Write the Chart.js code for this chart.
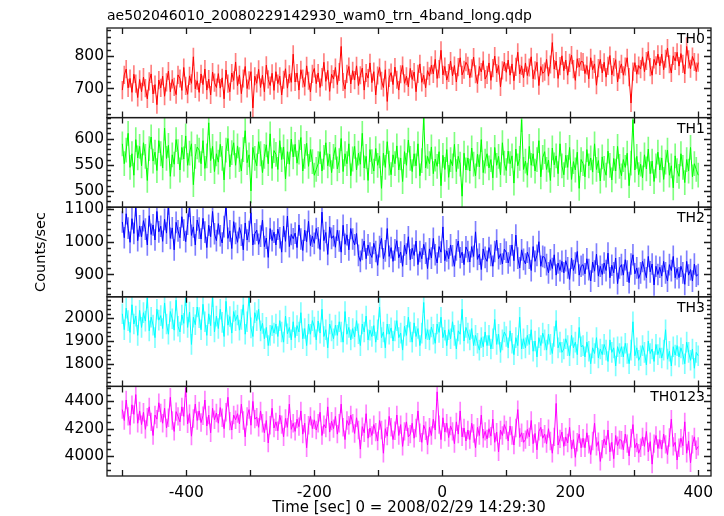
<!DOCTYPE html>
<html><head><meta charset="utf-8">
<script src="https://cdn.jsdelivr.net/npm/chart.js@4.4.1/dist/chart.umd.min.js"></script>
<style>html,body{margin:0;padding:0;background:#fff;}canvas{display:block;}</style>
</head><body>
<canvas id="c" width="724" height="516"></canvas>
<script>
const TITLE = 'ae502046010_20080229142930_wam0_trn_4band_long.qdp';
const X_TITLE = 'Time [sec] 0 = 2008/02/29 14:29:30';
const Y_TITLE = 'Counts/sec';
const bandNames = ['TH0', 'TH1', 'TH2', 'TH3', 'TH0123'];
const T0 = -500, DT = 3;            // bin start time and bin width [sec]
const xTickLabels = [-400, -200, 0, 200, 400];
const xMinorTicks = [-500, -400, -300, -200, -100, 0, 100, 200, 300, 400];
const xRange = [-524, 420];

const TH0 = [
695,742,760,702,731,688,744,715,672,728,
690,735,701,668,722,745,683,712,650,726,
702,738,676,719,754,690,728,705,681,742,
731,694,765,708,682,739,716,798,699,724,
688,745,712,760,695,729,680,751,718,703,
746,701,733,668,757,715,690,748,725,782,
709,742,684,731,768,700,725,752,640,738,
716,759,703,741,690,772,728,709,747,694,
752,715,738,680,727,761,701,744,719,806,
720,748,695,758,731,706,770,724,689,745,
762,715,748,703,735,781,722,756,691,744,
729,765,712,751,830,720,698,745,768,714,
755,726,770,709,741,763,695,748,732,779,
718,752,680,740,765,724,703,758,660,733,
749,712,766,727,695,744,771,716,738,705,
762,728,751,690,745,776,719,741,702,755,
738,772,745,790,731,760,818,742,768,726,
748,785,739,771,720,766,795,742,758,781,
770,733,762,797,744,715,768,751,786,729,
742,779,725,763,800,748,771,705,756,782,
750,788,741,776,724,767,812,745,770,733,
779,740,765,798,730,756,781,709,768,747,
752,790,738,774,842,760,785,731,769,801,
755,788,741,779,803,760,725,792,766,784,
782,746,771,730,795,758,776,710,763,790,
748,781,735,770,802,742,766,789,720,758,
776,741,768,795,735,655,752,780,744,771,
760,798,752,785,815,766,741,790,772,806,
770,806,758,792,825,775,748,801,785,812,
769,808,776,745,830,790,761,799,782,752,
780];
const TH1 = [
590,552,578,610,545,571,530,598,563,585,
548,592,566,520,581,603,557,574,539,596,
571,544,620,562,587,528,569,551,598,575,
540,583,561,605,549,572,590,512,566,584,
578,552,596,543,567,630,558,585,537,571,
555,589,562,521,578,600,546,573,592,549,
586,560,538,579,615,554,569,500,583,562,
548,594,571,535,566,588,552,609,543,577,
570,541,596,560,584,523,575,551,599,565,
589,553,574,602,538,566,591,547,579,556,
530,541,552,575,538,564,592,548,570,535,
566,583,542,558,600,537,571,552,590,529,
561,585,540,572,551,610,544,566,520,579,
556,538,581,549,567,505,572,545,594,553,
531,569,552,586,540,563,518,575,549,597,
562,537,571,548,590,529,558,640,544,566,
552,584,533,561,547,575,510,568,541,579,
526,560,548,589,537,566,551,490,572,540,
563,538,582,551,529,570,546,598,535,557,
571,544,560,525,583,549,566,531,592,553,
539,576,552,567,515,580,548,562,636,541,
557,530,585,549,571,538,560,596,527,564,
575,541,559,520,582,550,567,533,590,548,
531,568,545,583,522,556,540,574,505,560,
552,527,579,548,563,536,590,541,558,519,
565,543,530,576,549,521,562,538,585,547,
529,560,545,572,510,553,636,540,566,531,
551,525,569,542,580,533,557,518,548,574,
540,563,522,555,578,530,548,506,567,539,
528,571,545,516,560,538,583,527,552,541,
530];
const TH2 = [
1060,1012,1085,1041,998,1070,1025,1110,1003,1048,
1015,1064,1038,990,1079,1022,1051,1005,1092,1030,
1047,1001,1068,1026,1115,1010,1042,975,1059,1033,
1012,1076,1035,1000,1053,1108,1019,1045,990,1066,
1041,1008,1071,1029,982,1050,1015,1092,1024,1003,
1055,1018,996,1046,1112,1010,1033,979,1061,1025,
998,1043,1020,975,1057,1005,1031,1088,990,1024,
1035,992,1017,1066,985,1011,952,1040,1003,1029,
990,1038,1012,968,1047,1001,1078,985,1022,1009,
1026,982,1051,1008,973,1035,1000,1062,988,1017,
995,1040,1012,976,1090,1003,1028,961,1045,1010,
1018,983,1035,1002,968,1050,992,1021,975,1040,
1008,990,1025,958,940,976,1002,948,990,965,
952,995,970,928,985,1010,948,972,1040,955,
982,940,975,1003,951,968,925,990,962,1015,
945,980,958,1002,930,970,948,992,965,918,
978,950,1010,960,935,985,968,1045,942,972,
948,990,957,925,975,1002,951,968,930,984,
970,938,985,955,1030,946,962,915,978,952,
940,982,958,925,970,1005,948,963,932,977,
968,935,957,990,942,1020,950,920,975,946,
932,968,950,912,985,940,958,1000,925,955,
952,930,905,945,918,960,898,935,912,940,
905,942,920,885,950,912,935,970,898,925,
930,902,948,915,880,938,910,962,895,925,
900,935,912,965,890,928,905,950,872,920,
930,898,945,910,875,932,960,902,920,888,
905,940,915,890,955,908,932,868,925,900,
922,895,940,905,880,930,912,955,890,918,
890,925,905,870,940,898,915,880,932,895,
900];
const TH3 = [
2020,1950,2045,1990,1938,2060,1975,2010,1925,2035,
1960,2025,1988,2090,1945,2005,1970,1915,2040,1992,
2012,1955,2068,1975,1930,2030,1998,1948,2080,1965,
1940,2015,1978,2100,1960,2028,1885,2005,1972,2050,
2003,1950,2062,1985,1925,2020,1968,2095,1940,2010,
1955,2040,1982,1920,2075,1970,2008,1935,2030,1990,
2015,1948,1995,2060,1930,1985,2100,1958,1920,2025,
1990,2040,1945,1978,1910,1960,1880,1925,1968,1935,
1975,1920,1990,1940,1895,2010,1932,1960,1905,1985,
1915,1968,1940,2025,1910,1955,1880,1975,1930,1990,
1962,1905,1988,1935,2040,1920,1950,1870,1975,1945,
1910,1970,1925,1985,1940,1895,2030,1930,1960,1905,
1955,1918,1990,1932,1880,1975,1940,2010,1905,1948,
1920,1968,1895,1950,2050,1915,1940,1870,1975,1930,
1958,1900,1945,1990,1915,1935,1860,1965,1925,2005,
1940,1895,1980,1920,1955,1880,1935,2070,1910,1950,
1905,1962,1930,1890,1975,1938,2005,1915,1948,1880,
1950,1910,1985,1925,1865,1945,1930,2040,1900,1960,
1935,1905,1955,1880,1925,1890,1860,1915,1875,1940,
1880,1925,1865,1910,1995,1885,1930,1850,1905,1940,
1920,1870,1945,1890,1840,1915,1880,2005,1865,1910,
1870,1925,1885,1950,1855,1900,1830,1915,1880,1935,
1905,1860,1930,1885,1845,1920,1990,1870,1895,1850,
1865,1910,1880,1835,1925,1870,1895,1840,1960,1875,
1880,1830,1895,1855,1800,1870,1845,1915,1825,1865,
1840,1885,1860,1810,1905,1850,1870,1790,1875,1845,
1875,1830,1890,1845,1800,1860,1985,1835,1870,1815,
1835,1880,1850,1795,1900,1845,1865,1810,1885,1840,
1870,1825,1860,1950,1820,1855,1790,1875,1838,1880,
1830,1870,1842,1800,1895,1850,1815,1865,1780,1850,
1835];
const TH0123 = [
4340,4260,4410,4290,4225,4375,4305,4450,4240,4330,
4230,4320,4195,4285,4360,4250,4150,4300,4270,4390,
4315,4240,4350,4205,4280,4430,4260,4180,4325,4290,
4250,4360,4290,4500,4235,4310,4145,4275,4380,4260,
4330,4245,4295,4410,4220,4300,4170,4350,4265,4315,
4240,4355,4280,4200,4320,4430,4255,4190,4300,4265,
4310,4235,4380,4260,4140,4290,4340,4225,4400,4270,
4285,4210,4330,4240,4170,4260,4095,4225,4350,4205,
4250,4185,4300,4230,4140,4275,4210,4380,4195,4240,
4180,4270,4215,4330,4160,4240,4060,4225,4290,4200,
4265,4190,4240,4320,4150,4230,4205,4360,4175,4255,
4200,4290,4160,4240,4380,4210,4120,4260,4225,4300,
4240,4165,4280,4190,4050,4215,4170,4310,4130,4205,
4150,4230,4175,4110,4260,4190,4020,4200,4145,4290,
4210,4120,4185,4300,4150,4230,4070,4180,4250,4140,
4160,4240,4130,4205,4330,4170,4100,4225,4185,4080,
4210,4150,4270,4190,4470,4230,4120,4280,4175,4240,
4135,4220,4180,4090,4250,4160,4330,4140,4205,4110,
4190,4120,4240,4165,4060,4210,4150,4300,4130,4180,
4125,4200,4145,4270,4100,4175,4030,4190,4150,4230,
4190,4110,4220,4150,4080,4205,4340,4135,4170,4100,
4120,4195,4140,4260,4090,4165,4045,4180,4210,4130,
4160,4090,4200,4110,4020,4140,4385,4080,4125,4175,
4070,4140,4095,4210,4050,4120,3990,4100,4160,4060,
4130,4060,4170,4085,4010,4110,4240,4070,4105,3960,
4050,4125,4080,4190,4030,4100,3980,4150,4075,4120,
4115,4045,4160,4090,4000,4130,4230,4060,4095,4020,
4060,4140,4070,4180,4030,4105,3940,4090,4150,4055,
4120,4050,4160,4085,4010,4135,4270,4070,4100,3970,
4060,4130,4075,4250,4020,4110,3950,4085,4140,4045,
4070];

const seriesValues = [TH0, TH1, TH2, TH3, TH0123];
const errHalf = [27, 23, 32, 44, 65];
const yMins = [610, 469, 832, 1700, 3853];
const yMaxs = [887, 640, 1105, 2095, 4510];
const yTickLabels = [[700, 800], [500, 550, 600], [900, 1000, 1100], [1800, 1900, 2000], [4000, 4200, 4400]];
const yMinorSteps = [20, 10, 20, 20, 50];
const lineColors = ['#ff0000', '#00ff00', '#0000ff', '#00ffff', '#ff00ff'];
const errColors = ['rgba(255,0,0,0.5)', 'rgba(0,255,0,0.5)', 'rgba(0,0,255,0.5)', 'rgba(0,255,255,0.5)', 'rgba(255,0,255,0.5)'];

const FONT = '"DejaVu Sans", Verdana, sans-serif';
Chart.defaults.font.family = FONT;
Chart.defaults.font.size = 15;
Chart.defaults.color = '#000';

const axisIds = bandNames.map((_, k) => 'y' + k);
const datasets = [];
seriesValues.forEach((vals, k) => {
  const pts = vals.map((v, i) => ({x: T0 + i * DT, y: v}));
  datasets.push({
    type: 'line', label: bandNames[k], yAxisID: axisIds[k], data: pts,
    borderColor: lineColors[k], borderWidth: 1, pointRadius: 0, tension: 0, order: 1
  });
  datasets.push({
    type: 'bar', label: bandNames[k] + ' err', yAxisID: axisIds[k],
    data: vals.map((v, i) => ({x: T0 + i * DT, y: [v - errHalf[k], v + errHalf[k]]})),
    backgroundColor: errColors[k], borderWidth: 0, barThickness: 1, grouped: false, order: 2
  });
});

const scales = {
  x: {
    type: 'linear', position: 'bottom', min: xRange[0], max: xRange[1], offset: false,
    grid: {display: false, drawTicks: false}, border: {display: false},
    afterBuildTicks: s => { s.ticks = xTickLabels.map(v => ({value: v})); },
    afterFit: s => { s.height = 40; },
    ticks: {padding: 8, maxRotation: 0, autoSkip: false, font: {size: 15.5},
            callback: v => String(v)}
  }
};
axisIds.forEach((id, k) => {
  scales[id] = {
    type: 'linear', position: 'left', stack: 'panels', stackWeight: 1, weight: 5 - k,
    min: yMins[k], max: yMaxs[k], offset: false,
    grid: {display: false, drawTicks: false}, border: {display: false},
    afterBuildTicks: s => { s.ticks = yTickLabels[k].map(v => ({value: v})); },
    afterFit: s => { s.width = 60; },
    ticks: {padding: 3, autoSkip: false, font: {size: 15.5}, callback: v => String(v)}
  };
});

const framePlugin = {
  id: 'qdpFrame',
  afterDatasetsDraw(chart) {
    const {ctx, chartArea: a} = chart;
    const xs = chart.scales.x;
    ctx.save();
    ctx.strokeStyle = '#1a1a1a';
    ctx.lineWidth = 1.3;
    axisIds.forEach((id, k) => {
      const s = chart.scales[id];
      ctx.strokeRect(a.left, s.top, a.right - a.left, s.bottom - s.top);
      ctx.beginPath();
      const st = yMinorSteps[k];
      for (let v = Math.ceil(yMins[k] / st) * st; v <= yMaxs[k]; v += st) {
        const py = Math.round(s.getPixelForValue(v)) + 0.5;
        const len = yTickLabels[k].includes(v) ? 7 : 4;
        ctx.moveTo(a.left, py); ctx.lineTo(a.left + len, py);
        ctx.moveTo(a.right, py); ctx.lineTo(a.right - len, py);
      }
      xMinorTicks.forEach(t => {
        const px = Math.round(xs.getPixelForValue(t)) + 0.5;
        ctx.moveTo(px, s.top); ctx.lineTo(px, s.top + 6);
        ctx.moveTo(px, s.bottom); ctx.lineTo(px, s.bottom - 6);
      });
      ctx.stroke();
    });
    ctx.restore();

    ctx.save();
    ctx.fillStyle = '#000';
    ctx.textBaseline = 'alphabetic';
    ctx.textAlign = 'left';
    ctx.font = '14px ' + FONT;
    ctx.fillText(TITLE, a.left, 20);
    ctx.textAlign = 'right';
    axisIds.forEach((id, k) => {
      const s = chart.scales[id];
      ctx.fillText(bandNames[k], a.right - 6, s.top + 15);
    });
    ctx.textAlign = 'center';
    ctx.font = '15px ' + FONT;
    ctx.fillText(X_TITLE, (a.left + a.right) / 2, 512);
    ctx.font = '14.5px ' + FONT;
    ctx.translate(41, (a.top + a.bottom) / 2);
    ctx.rotate(-Math.PI / 2);
    ctx.textBaseline = 'middle';
    ctx.fillText(Y_TITLE, 0, 0);
    ctx.restore();
  }
};

new Chart(document.getElementById('c'), {
  type: 'line',
  data: {datasets},
  options: {
    responsive: false, animation: false, devicePixelRatio: 1,
    layout: {padding: {left: 47, right: 13, top: 28, bottom: 0}},
    plugins: {legend: {display: false}, tooltip: {enabled: false}, title: {display: false}},
    scales
  },
  plugins: [framePlugin]
});
</script>
</body></html>
